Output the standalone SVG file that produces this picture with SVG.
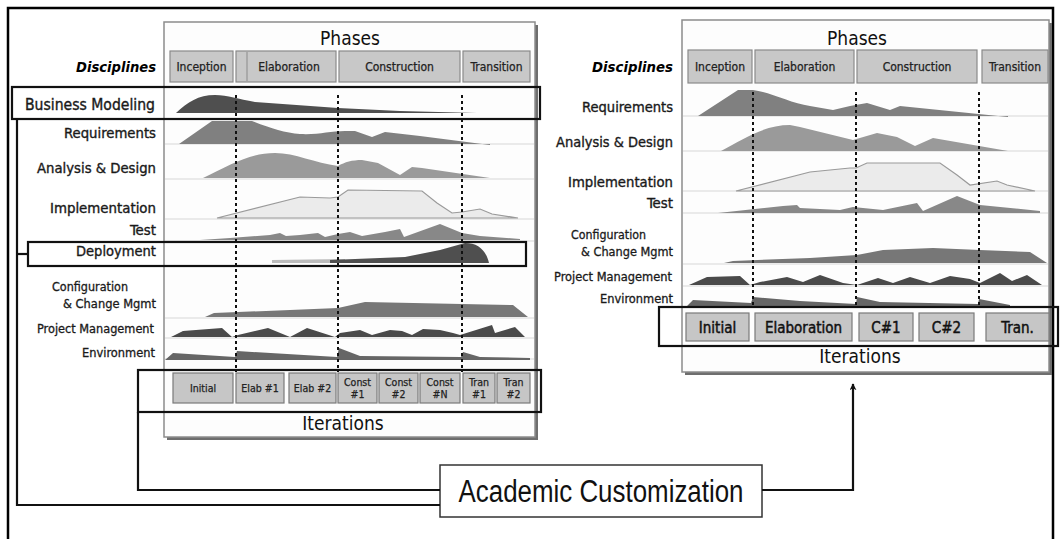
<svg xmlns="http://www.w3.org/2000/svg" width="1060" height="539" viewBox="0 0 1060 539">
<style>
.t{font-family:'DejaVu Sans Condensed','DejaVu Sans',sans-serif;font-stretch:condensed;fill:#1a1a1a}
.lbl{font-size:14px;stroke:#1a1a1a;stroke-width:0.35}
.sm{font-size:12.5px;stroke:#1a1a1a;stroke-width:0.3}
.disc{font-size:14px;font-weight:bold;font-style:italic;fill:#000}
.ph{font-size:12px;text-anchor:middle;fill:#222;stroke:#222;stroke-width:0.25}
.big{font-size:19px;text-anchor:middle;fill:#111}
.it{font-size:10.5px;text-anchor:middle;fill:#222;stroke:#222;stroke-width:0.25}
.it2{font-size:15px;text-anchor:middle;fill:#111;stroke:#111;stroke-width:0.45}
.pbox{fill:#c8c8c8;stroke:#8a8a8a;stroke-width:1.2}
.ibox{fill:#c6c6c6;stroke:#7a7a7a;stroke-width:1.2}
.panel{fill:#fdfdfd;stroke:#8c8c8c;stroke-width:1.5}
.shadow{fill:#6e6e6e}
.sep{stroke:#e3e3e3;stroke-width:1.5}
.dash{stroke:#111;stroke-width:2;stroke-dasharray:3 3;fill:none}
.hl{fill:none;stroke:#111;stroke-width:2.2}
.conn{fill:none;stroke:#111;stroke-width:2.2}
.d1{fill:#4f4f4f}.d2{fill:#808080}.d3{fill:#9a9a9a}.d4{fill:#ebebeb;stroke:#9a9a9a;stroke-width:1.2}.d5{fill:#888}.d6{fill:#777}.d7{fill:#4a4a4a}.d8{fill:#666}
</style>
<defs>
<marker id="arr" viewBox="0 0 10 10" refX="9" refY="5" markerWidth="7" markerHeight="7" orient="auto" markerUnits="userSpaceOnUse">
<path d="M0,0 L10,5 L0,10 L3,5 Z" fill="#111"/>
</marker>
</defs>
<rect x="0" y="0" width="1060" height="539" fill="#fff"/>
<path d="M8,539 V8 H1053 V539" fill="none" stroke="#000" stroke-width="2.5"/>

<g id="left-panel">
<rect class="shadow" x="167" y="25" width="371" height="415"/>
<rect class="panel" x="164" y="22" width="371" height="415"/>
<text class="t big" x="350" y="45">Phases</text>
<rect class="pbox" x="170" y="51" width="63" height="31"/>
<rect class="pbox" x="236" y="51" width="100" height="31"/>
<line x1="247" y1="52" x2="247" y2="81" stroke="#8a8a8a"/>
<rect class="pbox" x="339" y="51" width="121" height="31"/>
<rect class="pbox" x="463" y="51" width="67" height="31"/>
<text class="t ph" x="201.5" y="71">Inception</text>
<text class="t ph" x="289" y="71">Elaboration</text>
<text class="t ph" x="399.5" y="71">Construction</text>
<text class="t ph" x="496.5" y="71">Transition</text>
<g>
<line class="sep" x1="165" y1="144" x2="534" y2="144"/>
<line class="sep" x1="165" y1="179" x2="534" y2="179"/>
<line class="sep" x1="165" y1="219" x2="534" y2="219"/>
<line class="sep" x1="165" y1="241" x2="534" y2="241"/>
<line class="sep" x1="165" y1="318" x2="534" y2="318"/>
<line class="sep" x1="165" y1="338" x2="534" y2="338"/>
<line class="sep" x1="165" y1="359" x2="534" y2="359"/>
</g>
<path class="d1" d="M176,113 C188,102 198,95 215,95 C228,95 238,99 255,102 L338,108 L400,111 L477,113 Z"/>
<path class="d2" d="M179,144 L212,121 L252,121 C270,128 285,133 300,134 C318,135 330,131 345,131 L355,131 L372,137 L385,132 L420,136 L490,145 L490,144 Z"/>
<path class="d3" d="M203,178 C230,165 250,153 275,153 C295,153 315,163 338,166 C345,162 352,160 362,160 L378,163 L400,175 L412,167 L422,168 L490,178 Z"/>
<path class="d4" d="M217,218 L300,197 L330,198 L338,197 L348,190 L422,191 L437,203 L452,213 L462,212 L480,209 L492,214 L518,218 Z"/>
<path class="d5" d="M200,240 L230,238 L270,235 L280,233 L286,236 L300,235 L318,233 L325,237 L338,234 L350,232 L362,236 L385,232 L400,229 L404,237 L440,224 L462,233 L480,236 L520,239 L520,240 Z"/>
<path d="M272,263 L272,260 L345,259 L345,263 Z" fill="#bcbcbc"/>
<path class="d1" d="M330,263 L330,260 L405,257 L440,250 L465,243 C478,243 486,250 489,263 Z"/>
<path class="d6" d="M205,317 L214,313 L338,308 L365,302 L513,305 L528,317 Z"/>
<path class="d7" d="M171,337 L183,331 L222,328 L232,337 L238,335 L268,328 L290,337 L307,328 L335,337 L340,333 L360,330 L372,335 L390,330 L402,331 L412,335 L423,329 L440,330 L453,333 L460,335 L492,325 L495,333 L515,327 L525,337 Z"/>
<path class="d8" d="M165,360 L173,353 L235,357 L237,351 L337,357 L339,348 L360,356 L461,357 L463,352 L480,357 L530,358 L530,360 Z"/>
<line class="dash" x1="236" y1="95" x2="236" y2="372"/>
<line class="dash" x1="338" y1="95" x2="338" y2="372"/>
<line class="dash" x1="462" y1="95" x2="462" y2="372"/>
<rect class="ibox" x="173" y="373" width="60" height="30"/>
<rect class="ibox" x="236" y="373" width="48" height="30"/>
<rect class="ibox" x="289" y="373" width="47" height="30"/>
<rect class="ibox" x="338" y="373" width="39" height="30"/>
<rect class="ibox" x="379" y="373" width="39" height="30"/>
<rect class="ibox" x="420" y="373" width="40" height="30"/>
<rect class="ibox" x="463" y="373" width="32" height="30"/>
<rect class="ibox" x="497" y="373" width="33" height="30"/>
<text class="t it" x="203" y="392">Initial</text>
<text class="t it" x="260" y="392">Elab #1</text>
<text class="t it" x="312.5" y="392">Elab #2</text>
<text class="t it" x="357.5" y="386">Const</text><text class="t it" x="357.5" y="398">#1</text>
<text class="t it" x="398.5" y="386">Const</text><text class="t it" x="398.5" y="398">#2</text>
<text class="t it" x="440" y="386">Const</text><text class="t it" x="440" y="398">#N</text>
<text class="t it" x="479" y="386">Tran</text><text class="t it" x="479" y="398">#1</text>
<text class="t it" x="513.5" y="386">Tran</text><text class="t it" x="513.5" y="398">#2</text>
<text class="t big" x="343" y="430">Iterations</text>
</g>

<g id="left-labels">
<text class="t disc" x="156" y="72" text-anchor="end" textLength="80" lengthAdjust="spacingAndGlyphs">Disciplines</text>
<text class="t lbl" x="155" y="110" text-anchor="end" textLength="130" lengthAdjust="spacingAndGlyphs" style="font-size:15px">Business Modeling</text>
<text class="t lbl" x="156" y="138" text-anchor="end" textLength="92" lengthAdjust="spacingAndGlyphs">Requirements</text>
<text class="t lbl" x="156" y="173" text-anchor="end" textLength="119" lengthAdjust="spacingAndGlyphs">Analysis &amp; Design</text>
<text class="t lbl" x="156" y="213" text-anchor="end" textLength="106" lengthAdjust="spacingAndGlyphs">Implementation</text>
<text class="t lbl" x="156" y="235" text-anchor="end" textLength="26" lengthAdjust="spacingAndGlyphs">Test</text>
<text class="t lbl" x="156" y="256" text-anchor="end" textLength="80" lengthAdjust="spacingAndGlyphs">Deployment</text>
<text class="t sm" x="52" y="291" textLength="76" lengthAdjust="spacingAndGlyphs">Configuration</text>
<text class="t sm" x="156" y="308" text-anchor="end" textLength="93" lengthAdjust="spacingAndGlyphs">&amp; Change Mgmt</text>
<text class="t sm" x="154" y="333" text-anchor="end" textLength="117" lengthAdjust="spacingAndGlyphs">Project Management</text>
<text class="t sm" x="155" y="357" text-anchor="end" textLength="73" lengthAdjust="spacingAndGlyphs">Environment</text>
</g>

<g id="right-panel">
<rect class="shadow" x="685" y="23" width="367" height="352"/>
<rect class="panel" x="682" y="20" width="367" height="352"/>
<text class="t big" x="857" y="45">Phases</text>
<rect class="pbox" x="688" y="50" width="64" height="33"/>
<rect class="pbox" x="755" y="50" width="99" height="33"/>
<rect class="pbox" x="857" y="50" width="120" height="33"/>
<rect class="pbox" x="982" y="50" width="66" height="33"/>
<text class="t ph" x="720" y="71">Inception</text>
<text class="t ph" x="804.5" y="71">Elaboration</text>
<text class="t ph" x="917" y="71">Construction</text>
<text class="t ph" x="1015" y="71">Transition</text>
<g>
<line class="sep" x1="683" y1="116" x2="1048" y2="116"/>
<line class="sep" x1="683" y1="151" x2="1048" y2="151"/>
<line class="sep" x1="683" y1="191" x2="1048" y2="191"/>
<line class="sep" x1="683" y1="213" x2="1048" y2="213"/>
<line class="sep" x1="683" y1="264" x2="1048" y2="264"/>
<line class="sep" x1="683" y1="286" x2="1048" y2="286"/>
</g>
<path class="d2" d="M698,116 L738,90 L753,90 C770,92 790,103 810,106 L833,110 L850,106 L867,103 L890,110 L900,106 L1008,117 L1008,116 Z"/>
<path class="d3" d="M721,151 C745,138 765,125 790,125 L800,127 L853,140 L877,133 L897,137 L915,146 L933,138 L1008,151 Z"/>
<path class="d4" d="M736,191 L810,172 L850,168 L856,168 L867,163 L940,163 L957,175 L970,185 L997,181 L1007,185 L1035,191 Z"/>
<path class="d5" d="M718,213 L783,206 L797,205 L800,208 L840,210 L853,207 L883,210 L917,203 L923,211 L957,196 L980,205 L1040,211 L1040,213 Z"/>
<path class="d6" d="M724,263 L733,261 L810,258 L857,255 L883,250 L933,248 L980,250 L1030,252 L1047,263 Z"/>
<path class="d7" d="M689,285 L707,277 L740,276 L750,285 L760,282 L787,277 L803,282 L820,275 L843,283 L857,285 L878,278 L893,283 L910,277 L930,283 L950,276 L970,279 L980,283 L1000,273 L1012,281 L1027,275 L1042,285 Z"/>
<path class="d8" d="M687,306 L693,300 L751,303 L753,297 L800,301 L856,304 L857,297 L880,302 L978,304 L979,299 L1010,305 L1010,306 Z"/>
<line class="dash" x1="753" y1="92" x2="753" y2="307"/>
<line class="dash" x1="856" y1="92" x2="856" y2="307"/>
<line class="dash" x1="979" y1="92" x2="979" y2="307"/>
<rect class="ibox" x="686" y="313" width="63" height="28"/>
<rect class="ibox" x="755" y="313" width="97" height="28"/>
<rect class="ibox" x="859" y="313" width="54" height="28"/>
<rect class="ibox" x="919" y="313" width="55" height="28"/>
<rect class="ibox" x="986" y="313" width="63" height="28"/>
<text class="t it2" x="717.5" y="333">Initial</text>
<text class="t it2" x="803.5" y="333">Elaboration</text>
<text class="t it2" x="886" y="333">C#1</text>
<text class="t it2" x="946.5" y="333">C#2</text>
<text class="t it2" x="1017.5" y="333">Tran.</text>
<text class="t big" x="860" y="363">Iterations</text>
</g>

<g id="right-labels">
<text class="t disc" x="673" y="72" text-anchor="end" textLength="81" lengthAdjust="spacingAndGlyphs">Disciplines</text>
<text class="t lbl" x="673" y="112" text-anchor="end" textLength="91" lengthAdjust="spacingAndGlyphs">Requirements</text>
<text class="t lbl" x="673" y="147" text-anchor="end" textLength="117" lengthAdjust="spacingAndGlyphs">Analysis &amp; Design</text>
<text class="t lbl" x="673" y="187" text-anchor="end" textLength="105" lengthAdjust="spacingAndGlyphs">Implementation</text>
<text class="t lbl" x="673" y="208" text-anchor="end" textLength="26" lengthAdjust="spacingAndGlyphs">Test</text>
<text class="t sm" x="571" y="239" textLength="75" lengthAdjust="spacingAndGlyphs">Configuration</text>
<text class="t sm" x="673" y="256" text-anchor="end" textLength="92" lengthAdjust="spacingAndGlyphs">&amp; Change Mgmt</text>
<text class="t sm" x="672" y="281" text-anchor="end" textLength="118" lengthAdjust="spacingAndGlyphs">Project Management</text>
<text class="t sm" x="673" y="303" text-anchor="end" textLength="73" lengthAdjust="spacingAndGlyphs">Environment</text>
</g>

<g id="hl-business-modeling"><rect class="hl" x="12" y="87" width="528" height="32"/></g>
<g id="hl-deployment"><rect class="hl" x="28" y="242" width="498" height="24"/></g>
<g id="hl-iterations-left"><rect class="hl" x="138" y="370" width="403" height="42"/></g>
<g id="hl-iterations-right"><rect class="hl" x="659" y="307" width="399" height="39"/></g>

<g id="academic-customization">
<rect x="440" y="465" width="322" height="52" fill="#fff" stroke="#333" stroke-width="1.5"/>
<text x="601" y="502" text-anchor="middle" font-family="'Liberation Sans Narrow','Liberation Sans',sans-serif" font-size="31" fill="#111" textLength="285" lengthAdjust="spacingAndGlyphs">Academic Customization</text>
</g>

<g id="connectors">
<path class="conn" d="M17,119 V505 H440"/>
<path class="conn" d="M17,254 H28"/>
<path class="conn" d="M138,412 V490 H440"/>
<path class="conn" d="M762,490 H853 V384" marker-end="url(#arr)"/>
</g>
</svg>
